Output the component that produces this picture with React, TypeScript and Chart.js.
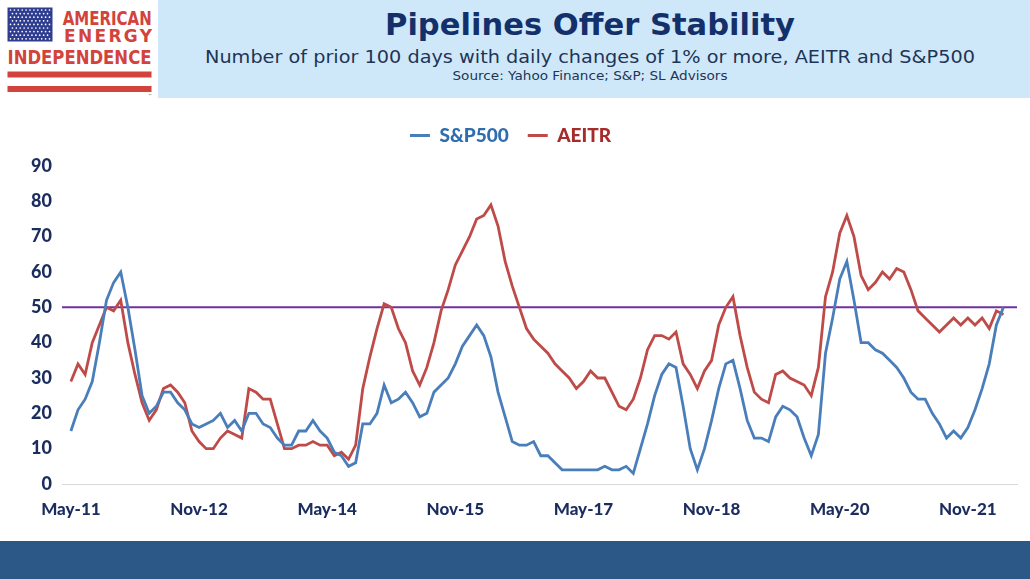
import React, { useEffect, useRef } from "react";
import { Chart, registerables } from "chart.js";

Chart.register(...registerables);

// ---- data (month index 0 = May-11) ----
const xTickMonths = [0, 18, 36, 54, 72, 90, 108, 126];
const xTickLabels = ["May-11", "Nov-12", "May-14", "Nov-15", "May-17", "Nov-18", "May-20", "Nov-21"];
const referenceLevel = 50;

const sp500Values = [
  15, 21, 24, 29, 40, 52, 57, 60, 50, 38,
  25, 20, 22, 26, 26, 23, 21, 17, 16, 17,
  18, 20, 16, 18, 15, 20, 20, 17, 16, 13,
  11, 11, 15, 15, 18, 15, 13, 9, 8, 5,
  6, 17, 17, 20, 28, 23, 24, 26, 23, 19,
  20, 26, 28, 30, 34, 39, 42, 45, 42, 36,
  26, 19, 12, 11, 11, 12, 8, 8, 6, 4,
  4, 4, 4, 4, 4, 5, 4, 4, 5, 3,
  10, 17, 25, 31, 34, 33, 22, 10, 4, 10,
  18, 27, 34, 35, 27, 18, 13, 13, 12, 19,
  22, 21, 19, 13, 8, 14, 37, 47, 58, 63,
  52, 40, 40, 38, 37, 35, 33, 30, 26, 24,
  24, 20, 17, 13, 15, 13, 16, 21, 27, 34,
  45, 50,
];

const aeitrValues = [
  29, 34, 31, 40, 45, 50, 49, 52, 40, 31,
  23, 18, 21, 27, 28, 26, 23, 15, 12, 10,
  10, 13, 15, 14, 13, 27, 26, 24, 24, 17,
  10, 10, 11, 11, 12, 11, 11, 8, 9, 7,
  11, 27, 36, 44, 51, 50, 44, 40, 32, 28,
  33, 40, 49, 55, 62, 66, 70, 75, 76, 79,
  73, 63, 56, 50, 44, 41, 39, 37, 34, 32,
  30, 27, 29, 32, 30, 30, 26, 22, 21, 24,
  30, 38, 42, 42, 41, 43, 34, 31, 27, 32,
  35, 45, 50, 53, 42, 33, 26, 24, 23, 31,
  32, 30, 29, 28, 25, 33, 53, 60, 71, 76,
  70, 59, 55, 57, 60, 58, 61, 60, 55, 49,
  47, 45, 43, 45, 47, 45, 47, 45, 47, 44,
  49, 48,
];

const X_MIN = -1.25;
const X_MAX = 132.9;
const LEGEND_HEIGHT = 59;
const LEGEND_CENTER = 520;

const navy = "#1B2D5E";

function Logo() {
  const stars: React.ReactNode[] = [];
  for (let r = 0; r < 9; r++) {
    const cols = r % 2 === 0 ? 11 : 10;
    for (let c = 0; c < cols; c++) {
      const cx = 10.5 + c * 3.9 + (r % 2 === 0 ? 0 : 1.95);
      const cy = 10 + r * 3.6;
      stars.push(<circle key={`${r}-${c}`} cx={cx} cy={cy} r={0.85} fill="#ffffff" />);
    }
  }
  const red = "#D2433B";
  return (
    <g>
      <rect x={7.5} y={7.5} width={45} height={34} fill="#2E3D8F" />
      {stars}
      <text x={62.7} y={25} fontFamily="DejaVu Sans" fontWeight="bold" fontSize={20} fill={red}
        textLength={89} lengthAdjust="spacingAndGlyphs">AMERICAN</text>
      <text x={64} y={42} fontFamily="DejaVu Sans" fontWeight="bold" fontSize={17} fill={red}
        textLength={88} lengthAdjust="spacing">ENERGY</text>
      <text x={7.5} y={63.5} fontFamily="DejaVu Sans" fontWeight="bold" fontSize={20} fill={red}
        textLength={144} lengthAdjust="spacingAndGlyphs">INDEPENDENCE</text>
      <rect x={7.5} y={71.5} width={144} height={6} fill={red} />
      <rect x={7.5} y={86} width={144} height={6} fill={red} />
      <text x={148} y={97} fontFamily="DejaVu Sans" fontSize={4} fill="#666">™</text>
    </g>
  );
}

function Header() {
  const textColor = "#1D3557";
  return (
    <svg width={1030} height={100} style={{ position: "absolute", left: 0, top: 0 }}>
      <rect x={158} y={0} width={872} height={98} fill="#CFE8F9" />
      <Logo />
      <text x={590} y={35} textAnchor="middle" fontFamily="DejaVu Sans" fontWeight="bold" fontSize={31}
        fill="#14306B" textLength={410} lengthAdjust="spacingAndGlyphs">Pipelines Offer Stability</text>
      <text x={590} y={62.5} textAnchor="middle" fontFamily="DejaVu Sans" fontSize={18.5}
        fill={textColor} textLength={770} lengthAdjust="spacingAndGlyphs">
        Number of prior 100 days with daily changes of 1% or more, AEITR and S&amp;P500
      </text>
      <text x={590} y={80} textAnchor="middle" fontFamily="DejaVu Sans" fontSize={12.5}
        fill={textColor} textLength={275} lengthAdjust="spacingAndGlyphs">
        Source: Yahoo Finance; S&amp;P; SL Advisors
      </text>
    </svg>
  );
}

function PipelineChart() {
  const canvasRef = useRef<HTMLCanvasElement | null>(null);

  useEffect(() => {
    if (!canvasRef.current) return;

    const legendTweaks = {
      id: "legendTweaks",
      beforeInit(chart: any) {
        const legend = chart.legend;
        if (legend) {
          const origFit = legend.fit;
          legend.fit = function () {
            origFit.call(this);
            this.height = LEGEND_HEIGHT;
          };
        }
      },
      afterLayout(chart: any) {
        const legend = chart.legend;
        if (!legend) return;
        const pad = legend.options.labels.padding;
        const shift = LEGEND_CENTER - (legend.left + legend.right + pad) / 2;
        legend.left += shift;
        legend.right += shift;
      },
    };

    const chart = new Chart(canvasRef.current, {
      type: "line",
      data: {
        datasets: [
          {
            label: "S&P500",
            data: sp500Values.map((v, i) => ({ x: i, y: v })),
            borderColor: "#4A7EBB",
            backgroundColor: "#4A7EBB",
            borderWidth: 2.8,
            pointRadius: 0,
            tension: 0,
          },
          {
            label: "AEITR",
            data: aeitrValues.map((v, i) => ({ x: i, y: v })),
            borderColor: "#BE4B48",
            backgroundColor: "#BE4B48",
            borderWidth: 2.8,
            pointRadius: 0,
            tension: 0,
          },
          {
            label: "ref",
            data: [
              { x: X_MIN, y: referenceLevel },
              { x: X_MAX, y: referenceLevel },
            ],
            borderColor: "#7030A0",
            backgroundColor: "#7030A0",
            borderWidth: 2,
            pointRadius: 0,
          },
        ],
      },
      options: {
        animation: false,
        responsive: true,
        maintainAspectRatio: false,
        layout: { padding: { top: 7, left: 0, right: 13, bottom: 0 } },
        plugins: {
          tooltip: { enabled: false },
          legend: {
            display: true,
            position: "top",
            labels: {
              boxWidth: 20,
              boxHeight: 3,
              padding: 19,
              font: { family: "Lato", size: 19, weight: "900" },
              filter: (item: any) => item.text !== "ref",
              generateLabels: (ch: any) => {
                const items = Chart.defaults.plugins.legend.labels.generateLabels(ch);
                const textColors: Record<string, string> = { "S&P500": "#2E6DAE", AEITR: "#A52C2A" };
                return items.map((it: any) => ({
                  ...it,
                  fontColor: textColors[it.text] || navy,
                  lineWidth: 0,
                }));
              },
            },
          },
        },
        scales: {
          x: {
            type: "linear",
            min: X_MIN,
            max: X_MAX,
            grid: { display: false, drawTicks: false },
            border: { display: true, color: "#D9D9D9", width: 1 },
            afterBuildTicks: (scale: any) => {
              scale.ticks = xTickMonths.map((m) => ({ value: m }));
            },
            afterFit: (scale: any) => {
              scale.height = 57;
            },
            ticks: {
              autoSkip: false,
              maxRotation: 0,
              padding: 15,
              color: navy,
              font: { family: "Lato", size: 17, weight: "900" },
              callback: (_v: any, idx: number) => xTickLabels[idx],
            },
          },
          y: {
            min: 0,
            max: 90,
            grid: { display: false, drawTicks: false },
            border: { display: false },
            afterFit: (scale: any) => {
              scale.width = 62;
            },
            ticks: {
              stepSize: 10,
              padding: 10,
              color: navy,
              font: { family: "Lato", size: 18, weight: "900" },
            },
          },
        },
      },
      plugins: [legendTweaks],
    } as any);

    return () => chart.destroy();
  }, []);

  return (
    <div style={{ position: "absolute", left: 0, top: 100, width: 1030, height: 441 }}>
      <canvas ref={canvasRef} />
    </div>
  );
}

export default function App() {
  return (
    <div
      style={{
        position: "fixed",
        left: 0,
        top: 0,
        width: 1030,
        height: 579,
        background: "#ffffff",
        overflow: "hidden",
      }}
    >
      <Header />
      <PipelineChart />
      <div style={{ position: "absolute", left: 0, top: 541, width: 1030, height: 38, background: "#2B5886" }} />
    </div>
  );
}
